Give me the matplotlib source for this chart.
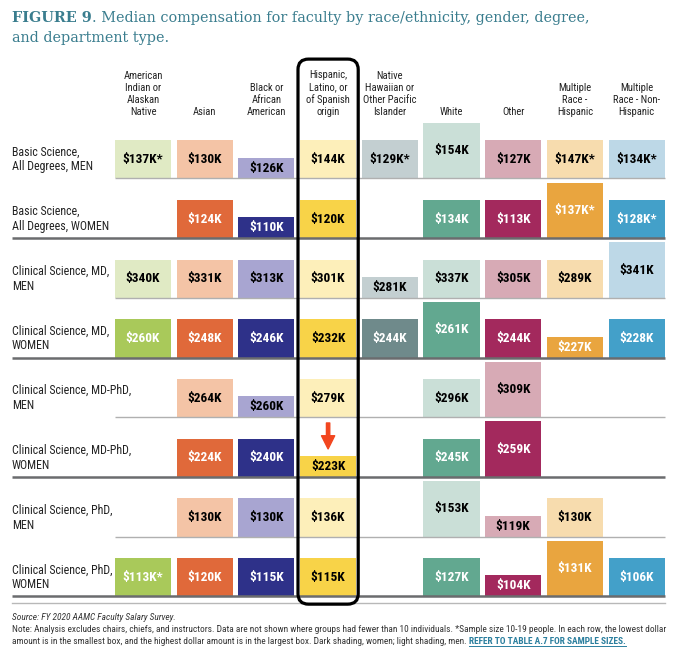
import matplotlib
matplotlib.use("Agg")
import matplotlib.pyplot as plt
from matplotlib.patches import FancyBboxPatch

# ---------------------------------------------------------
# Data (values in $K, None = group under 10 individuals)
# ---------------------------------------------------------
groups = [
    "American\nIndian or\nAlaskan\nNative",
    "Asian",
    "Black or\nAfrican\nAmerican",
    "Hispanic,\nLatino, or\nof Spanish\norigin",
    "Native\nHawaiian or\nOther Pacific\nIslander",
    "White",
    "Other",
    "Multiple\nRace -\nHispanic",
    "Multiple\nRace - Non-\nHispanic",
]

row_labels = [
    "Basic Science,\nAll Degrees, MEN",
    "Basic Science,\nAll Degrees, WOMEN",
    "Clinical Science, MD,\nMEN",
    "Clinical Science, MD,\nWOMEN",
    "Clinical Science, MD-PhD,\nMEN",
    "Clinical Science, MD-PhD,\nWOMEN",
    "Clinical Science, PhD,\nMEN",
    "Clinical Science, PhD,\nWOMEN",
]

basic_men = [137, 130, 126, 144, 129, 154, 127, 147, 134]
basic_women = [None, 124, 110, 120, None, 134, 113, 137, 128]
md_men = [340, 331, 313, 301, 281, 337, 305, 289, 341]
md_women = [260, 248, 246, 232, 244, 261, 244, 227, 228]
mdphd_men = [None, 264, 260, 279, None, 296, 309, None, None]
mdphd_women = [None, 224, 240, 223, None, 245, 259, None, None]
phd_men = [None, 130, 130, 136, None, 153, 119, 130, None]
phd_women = [113, 120, 115, 115, None, 127, 104, 131, 106]

rows = [basic_men, basic_women, md_men, md_women,
        mdphd_men, mdphd_women, phd_men, phd_women]

# (row, column) cells with sample size 10-19
small_sample = [(0, 0), (0, 4), (0, 7), (0, 8), (1, 7), (1, 8), (7, 0)]

light_colors = ["#e0eac4", "#f4c4a6", "#a8a5d1", "#fdefba", "#c3cfd1",
                "#cadfd7", "#d7aab5", "#f7dcae", "#bdd8e7"]
dark_colors = ["#a9c95a", "#e0693a", "#2e3189", "#f8d348", "#6f8a8b",
               "#62a890", "#a3295d", "#e9a53f", "#43a0c9"]

# box heights (row units) for lowest / middle / highest value of a row
box_small, box_mid, box_large = 0.35, 0.64, 0.93

narrow = ["Roboto Condensed", "Liberation Sans Narrow", "Roboto"]
teal = "#3a7d8e"

# ---------------------------------------------------------
# Figure: columns are integer x, row r sits on baseline y = -r
# ---------------------------------------------------------
fig = plt.figure(figsize=(6.8, 6.5), dpi=100)
ax = fig.add_axes([0, 0, 1, 1])
ax.axis("off")
ax.set_xlim(-2.3177, 8.7034)
ax.set_ylim(-7.898, 2.990)

bar_w = 0.908
for r, vals in enumerate(rows):
    women = r % 2 == 1
    shown = [v for v in vals if v is not None]
    lo, hi = min(shown), max(shown)
    for c, v in enumerate(vals):
        if v is None:
            continue
        h = box_small if v == lo else (box_large if v == hi else box_mid)
        col = dark_colors[c] if women else light_colors[c]
        ax.bar(c, h, width=bar_w, bottom=-r, color=col, zorder=1)
        txt = f"${v}K" + ("*" if (r, c) in small_sample else "")
        tcol = "white" if (women and c != 3) else "black"
        ax.text(c, -r + h / 2, txt, ha="center", va="center",
                fontsize=9.6, fontweight="bold", color=tcol,
                family=narrow, zorder=3)

    ax.text(-2.123, -r + 0.32, row_labels[r], ha="left", va="center",
            fontsize=8.6, family=narrow, color="#222222", linespacing=1.2)

    # separators
    if women:
        ax.plot([-2.123, 8.454], [-r, -r], color="#6b6c6e", lw=1.8,
                solid_capstyle="butt", zorder=2)
    else:
        ax.plot([-0.454, 8.454], [-r, -r], color="#b0b0b0", lw=1,
                solid_capstyle="butt", zorder=2)

ax.plot([-2.123, 8.454], [-7.11, -7.11], color="#b8b8b8", lw=1, zorder=2)

# column headers
for c, g in enumerate(groups):
    ax.text(c, 1.03, g, ha="center", va="bottom", fontsize=7.6,
            family=narrow, color="#222222", linespacing=1.25)

# highlight around Hispanic column
hl = FancyBboxPatch((2.512, -7.13), 0.976, 9.13,
                    boxstyle="round,pad=0,rounding_size=0.17",
                    mutation_aspect=1.03, fill=False, ec="black",
                    lw=2.3, zorder=4)
ax.add_patch(hl)

# red arrow on MD-PhD women, Hispanic
ax.annotate("", xy=(3, -5 + 0.47), xytext=(3, -5 + 0.905),
            arrowprops=dict(arrowstyle="simple,head_length=0.95,head_width=0.95,tail_width=0.24",
                            color="#f2461f", shrinkA=0, shrinkB=0,
                            mutation_scale=10), zorder=5)

# ---------------------------------------------------------
# Title and footer
# ---------------------------------------------------------
fig.canvas.draw()
rend = fig.canvas.get_renderer()

def px(x, y):
    return x / 680, 1 - y / 650

t1 = fig.text(*px(12, 18), "FIGURE 9", fontsize=10.4, fontweight="bold",
              family="DejaVu Serif", color=teal, va="center")
bb = t1.get_window_extent(rend)
fig.text(bb.x1 / 680, 1 - 18 / 650,
         ". Median compensation for faculty by race/ethnicity, gender, degree,",
         fontsize=10.4, family="DejaVu Serif", color=teal, va="center")
fig.text(*px(12, 38), "and department type.", fontsize=10.4,
         family="DejaVu Serif", color=teal, va="center")

foot = 6.75
fig.text(*px(12, 617), "Source: FY 2020 AAMC Faculty Salary Survey.",
         fontsize=foot, style="italic", family=narrow, color="#333333", va="center")
fig.text(*px(12, 629),
         "Note: Analysis excludes chairs, chiefs, and instructors. Data are not shown "
         "where groups had fewer than 10 individuals. *Sample size 10-19 people. "
         "In each row, the lowest dollar",
         fontsize=foot, family=narrow, color="#333333", va="center")
n2 = fig.text(*px(12, 641),
              "amount is in the smallest box, and the highest dollar amount is in the "
              "largest box. Dark shading, women; light shading, men. ",
              fontsize=foot, family=narrow, color="#333333", va="center")
bb2 = n2.get_window_extent(rend)
lk = fig.text(bb2.x1 / 680, 1 - 641 / 650, "REFER TO TABLE A.7 FOR SAMPLE SIZES.",
              fontsize=foot, fontweight="bold", family=narrow, color="#2b7f9e",
              va="center")
bb3 = lk.get_window_extent(rend)
fig.add_artist(plt.Line2D([bb3.x0 / 680, bb3.x1 / 680],
                          [1 - 646 / 650, 1 - 646 / 650],
                          color="#2b7f9e", lw=0.7))

fig.savefig("out.png", dpi=100)
